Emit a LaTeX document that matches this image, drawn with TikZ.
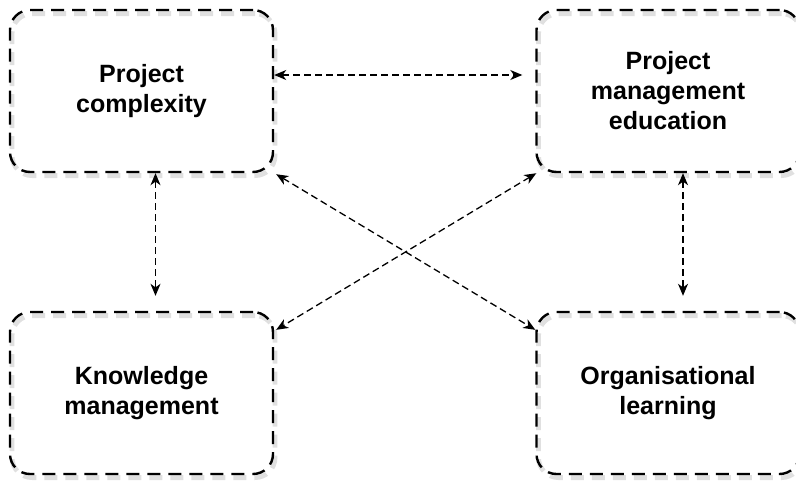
\documentclass[tikz,border=0pt]{standalone}
\usepackage{fontspec}
\setmainfont{Liberation Sans}
\usepackage{tikz}
\usetikzlibrary{arrows.meta,positioning}

\tikzset{
  factor/.style={rectangle, draw, rounded corners=10pt, line width=1.2pt,
    dash pattern=on 6.5pt off 4pt, minimum width=131.5pt, minimum height=81pt,
    align=center, font=\fontsize{12.5}{15}\selectfont\bfseries,
    preaction={draw=black!12, line width=2.4pt, transform canvas={shift={(1pt,-1.8pt)}}}},
  link/.style={{Stealth[length=6pt,width=5pt,inset=1.8pt]}-{Stealth[length=6pt,width=5pt,inset=1.8pt]},
    line width=0.65pt, dash pattern=on 3.5pt off 2pt}
}

\begin{document}
\begin{tikzpicture}[x=0.5pt, y=0.5pt]
    \useasboundingbox (0,0) rectangle (796,484);

    % Factors
    \node[factor] (complexity) at (141.5,393) {Project\\complexity};
    \node[factor] (education) at (668,393) {Project\\management\\education};
    \node[factor] (knowledge) at (141.5,91) {Knowledge\\management};
    \node[factor] (learning) at (668,91) {Organisational\\learning};

    % Relations
    \draw[link, shorten >=6.5pt] ([yshift=8pt]complexity.east) -- ([yshift=8pt]education.west);
    \draw[link, shorten >=7.5pt] ([xshift=7pt]complexity.south) -- ([xshift=7pt]knowledge.north);
    \draw[link, shorten >=7.5pt] ([xshift=7.5pt]education.south) -- ([xshift=7.5pt]learning.north);
    \draw[link] ([shift={(1pt,-0.5pt)}]complexity.south east) -- ([yshift=-9.5pt]learning.north west);
    \draw[link] ([xshift=0.5pt]education.south west) -- ([shift={(1pt,-9.5pt)}]knowledge.north east);
\end{tikzpicture}
\end{document}
